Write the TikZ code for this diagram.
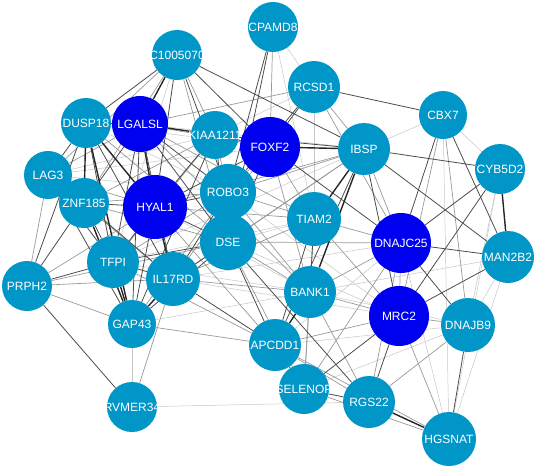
\documentclass[tikz,border=0pt]{standalone}
\usepackage{fontspec}
\setmainfont{Liberation Sans}
\usetikzlibrary{backgrounds}

\definecolor{genebleu}{RGB}{0,150,200}
\definecolor{hubbleu}{RGB}{0,0,240}

\tikzset{
  gene/.style={circle, fill=genebleu, inner sep=0pt},
  hub/.style={circle, fill=hubbleu, inner sep=0pt},
  lbl/.style={text=white, font=\fontsize{12}{14}\selectfont, inner sep=0pt},
  liena/.style={gray!45, line width=0.5pt},
  lienb/.style={gray!80, line width=0.7pt},
  lienc/.style={black!70, line width=0.8pt},
  liend/.style={black!85, line width=1.4pt},
}

\begin{document}
\begin{tikzpicture}[x=1pt,y=-1pt] % 1 px = 1 pt

\useasboundingbox (0,0) rectangle (536,469);

% --------- NOEUDS ----------
\node[gene, minimum size=50, label={[lbl]center:CPAMD8}]   (cpamd8)  at (273,27)  {};
\node[gene, minimum size=50, label={[lbl]center:C1005070}] (loc)     at (177,55)  {};
\node[gene, minimum size=52, label={[lbl]center:RCSD1}]    (rcsd1)   at (314,87)  {};
\node[gene, minimum size=48, label={[lbl]center:CBX7}]     (cbx7)    at (443,115) {};
\node[gene, minimum size=50, label={[lbl]center:DUSP18}]   (dusp18)  at (86,123)  {};
\node[hub,  minimum size=56, label={[lbl]center:LGALSL}]   (lgalsl)  at (140,124) {};
\node[gene, minimum size=48, label={[lbl]center:KIAA1211}] (kiaa)    at (215,135) {};
\node[hub,  minimum size=60, label={[lbl]center:FOXF2}]    (foxf2)   at (270,147) {};
\node[gene, minimum size=52, label={[lbl]center:IBSP}]     (ibsp)    at (364,149) {};
\node[gene, minimum size=50, label={[lbl]center:CYB5D2}]   (cyb5d2)  at (500,169) {};
\node[gene, minimum size=48, label={[lbl]center:LAG3}]     (lag3)    at (48,175)  {};
\node[gene, minimum size=50, label={[lbl]center:ZNF185}]   (znf185)  at (84,203)  {};
\node[hub,  minimum size=64, label={[lbl]center:HYAL1}]    (hyal1)   at (155,207) {};
\node[gene, minimum size=56, label={[lbl]center:ROBO3}]    (robo3)   at (228,192) {};
\node[gene, minimum size=56, label={[lbl]center:DSE}]      (dse)     at (228,242) {};
\node[gene, minimum size=54, label={[lbl]center:TIAM2}]    (tiam2)   at (314,219) {};
\node[hub,  minimum size=60, label={[lbl]center:DNAJC25}]  (dnajc25) at (401,243) {};
\node[gene, minimum size=52, label={[lbl]center:MAN2B2}]   (man2b2)  at (508,257) {};
\node[gene, minimum size=52, label={[lbl]center:TFPI}]     (tfpi)    at (113,262) {};
\node[gene, minimum size=54, label={[lbl]center:IL17RD}]   (il17rd)  at (173,279) {};
\node[gene, minimum size=50, label={[lbl]center:PRPH2}]    (prph2)   at (27,286)  {};
\node[gene, minimum size=52, label={[lbl]center:BANK1}]    (bank1)   at (310,292) {};
\node[hub,  minimum size=60, label={[lbl]center:MRC2}]     (mrc2)    at (399,316) {};
\node[gene, minimum size=54, label={[lbl]center:DNAJB9}]   (dnajb9)  at (468,325) {};
\node[gene, minimum size=48, label={[lbl]center:GAP43}]    (gap43)   at (132,324) {};
\node[gene, minimum size=52, label={[lbl]center:APCDD1}]   (apcdd1)  at (275,345) {};
\node[gene, minimum size=50, label={[lbl]center:SELENOP}]  (selenop) at (304,389) {};
\node[gene, minimum size=52, label={[lbl]center:RGS22}]    (rgs22)   at (369,402) {};
\node[gene, minimum size=50, label={[lbl]center:RVMER34}]  (ervmer)  at (132,407) {};
\node[gene, minimum size=54, label={[lbl]center:HGSNAT}]   (hgsnat)  at (449,439) {};

% --------- LIENS (sous les noeuds) ----------
\begin{scope}[on background layer]
% liens clairs
\foreach \a/\b in {loc/tfpi, cpamd8/rcsd1, cpamd8/tiam2, rcsd1/tiam2, rcsd1/kiaa,
  cbx7/ibsp, cbx7/cyb5d2, cbx7/hgsnat, cyb5d2/dnajb9, cyb5d2/hgsnat, ibsp/lgalsl,
  ibsp/tfpi, foxf2/dusp18, foxf2/lag3, dusp18/robo3, kiaa/lag3, lag3/robo3,
  hyal1/bank1, robo3/mrc2, dse/tiam2, dse/mrc2, tiam2/tfpi, tfpi/bank1,
  il17rd/mrc2, il17rd/dnajc25, gap43/ervmer, gap43/bank1, ervmer/rgs22,
  bank1/dnajb9, bank1/man2b2, apcdd1/dnajb9, dnajc25/hgsnat, dnajc25/apcdd1,
  man2b2/dnajb9, man2b2/hgsnat, dnajb9/selenop}
  \draw[liena] (\a) -- (\b);
% liens moyens
\foreach \a/\b in {loc/kiaa, loc/dse, loc/lag3, loc/znf185, cpamd8/foxf2,
  rcsd1/lgalsl, rcsd1/ibsp, rcsd1/dnajc25, cbx7/mrc2, cbx7/dnajb9, ibsp/dse,
  ibsp/dnajc25, ibsp/hyal1, ibsp/robo3, ibsp/il17rd, foxf2/lgalsl, foxf2/robo3,
  foxf2/tiam2, foxf2/il17rd, foxf2/bank1, dusp18/dse, lgalsl/lag3, lgalsl/tiam2,
  lgalsl/bank1, kiaa/robo3, kiaa/znf185, kiaa/tfpi, lag3/prph2, lag3/hyal1,
  lag3/il17rd, znf185/dse, znf185/robo3, hyal1/prph2, hyal1/tiam2, hyal1/apcdd1,
  robo3/tiam2, robo3/tfpi, robo3/gap43, robo3/bank1, dse/bank1, dse/dnajc25,
  dse/selenop, dse/prph2, tiam2/dnajc25, tiam2/mrc2, tiam2/il17rd, tiam2/selenop,
  tfpi/apcdd1, il17rd/prph2, il17rd/bank1, il17rd/ervmer, prph2/gap43,
  gap43/apcdd1, bank1/mrc2, bank1/dnajc25, bank1/selenop, bank1/rgs22,
  apcdd1/rgs22, apcdd1/mrc2, apcdd1/hgsnat, dnajc25/mrc2, dnajc25/rgs22,
  dnajc25/selenop, mrc2/dnajb9, mrc2/hgsnat, dnajb9/rgs22, selenop/hgsnat}
  \draw[lienb] (\a) -- (\b);
% liens foncés
\foreach \a/\b in {loc/dusp18, loc/hyal1, loc/robo3, loc/foxf2, loc/ibsp,
  cpamd8/robo3, cpamd8/dse, rcsd1/cbx7, rcsd1/foxf2, rcsd1/robo3, cbx7/dnajc25,
  cbx7/man2b2, cyb5d2/ibsp, cyb5d2/dnajc25, cyb5d2/mrc2, ibsp/mrc2, ibsp/man2b2,
  ibsp/kiaa, ibsp/apcdd1, foxf2/kiaa, foxf2/hyal1, foxf2/dse, foxf2/dnajc25,
  dusp18/lgalsl, dusp18/lag3, dusp18/tfpi, dusp18/prph2, dusp18/il17rd,
  lgalsl/robo3, lgalsl/dse, lgalsl/znf185, lgalsl/tfpi, lgalsl/gap43,
  lgalsl/il17rd, kiaa/hyal1, kiaa/dse, kiaa/gap43, lag3/znf185, lag3/tfpi,
  lag3/gap43, znf185/hyal1, znf185/tfpi, znf185/prph2, znf185/il17rd,
  hyal1/robo3, hyal1/dse, hyal1/tfpi, hyal1/gap43, robo3/il17rd, dse/il17rd,
  dse/tfpi, dse/gap43, dse/apcdd1, dse/rgs22, tiam2/bank1, tiam2/apcdd1,
  tfpi/prph2, tfpi/il17rd, il17rd/apcdd1, prph2/ervmer, apcdd1/selenop,
  dnajc25/man2b2, dnajc25/dnajb9, mrc2/man2b2, mrc2/rgs22, mrc2/selenop,
  dnajb9/hgsnat, selenop/rgs22}
  \draw[lienc] (\a) -- (\b);
% liens épais
\foreach \a/\b in {loc/lgalsl, cyb5d2/man2b2, ibsp/foxf2, ibsp/tiam2, ibsp/bank1,
  dusp18/znf185, dusp18/hyal1, dusp18/gap43, lgalsl/kiaa, lgalsl/hyal1,
  znf185/gap43, hyal1/il17rd, robo3/dse, tfpi/gap43, il17rd/gap43,
  bank1/apcdd1, rgs22/hgsnat}
  \draw[liend] (\a) -- (\b);
\end{scope}

\end{tikzpicture}
\end{document}
